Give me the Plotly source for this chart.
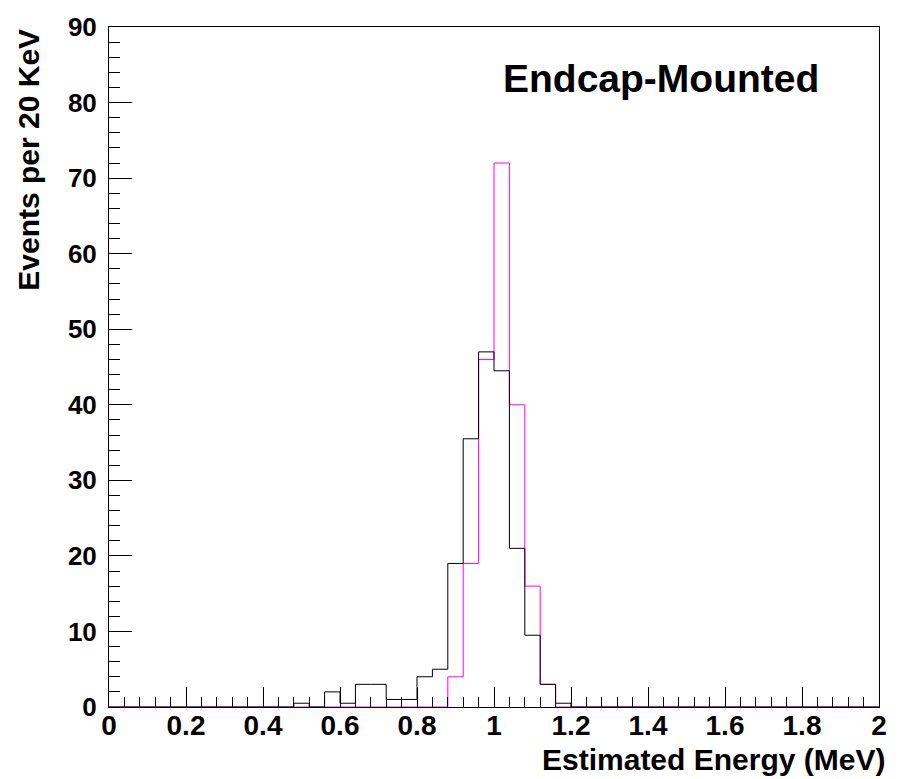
import numpy as np
import plotly.graph_objects as go

# ---- data ----
x_min, x_max, n_bins = 0.0, 2.0, 50
# black histogram (all events), 0.04 MeV bins starting at 0
counts_black = [0, 0, 0, 0, 0, 0, 0, 0, 0, 0,
                0, 0, 0.5, 0, 2, 0.5, 3, 3, 1, 1,
                4, 5, 19, 35.5, 47, 44.5, 21, 9.5, 3, 0.5,
                0, 0, 0, 0, 0, 0, 0, 0, 0, 0,
                0, 0, 0, 0, 0, 0, 0, 0, 0, 0]
# magenta histogram
counts_magenta = [0, 0, 0, 0, 0, 0, 0, 0, 0, 0,
                  0, 0, 0, 0, 0, 0, 0, 0, 0, 0,
                  0, 0, 4, 19, 46, 72, 40, 16, 3, 0,
                  0, 0, 0, 0, 0, 0, 0, 0, 0, 0,
                  0, 0, 0, 0, 0, 0, 0, 0, 0, 0]
x_ticks = [0, 0.2, 0.4, 0.6, 0.8, 1, 1.2, 1.4, 1.6, 1.8, 2]
y_ticks = [0, 10, 20, 30, 40, 50, 60, 70, 80, 90]
x_title = "Estimated Energy (MeV)"
y_title = "Events per 20 KeV"
label_text = "Endcap-Mounted"

edges = np.linspace(x_min, x_max, n_bins + 1)

def step_y(c):
    return list(c) + [c[-1]]

FONT = "Liberation Sans, Arial, sans-serif"

fig = go.Figure()
fig.add_trace(go.Scatter(x=edges, y=step_y(counts_magenta), mode="lines",
                         line=dict(color="#ff00ff", width=1, shape="hv"),
                         showlegend=False, hoverinfo="skip"))
fig.add_trace(go.Scatter(x=edges, y=step_y(counts_black), mode="lines",
                         line=dict(color="black", width=1, shape="hv"),
                         showlegend=False, hoverinfo="skip"))

fig.update_layout(
    width=899, height=779,
    margin=dict(l=109, r=20, t=23, b=72, pad=0),
    paper_bgcolor="white", plot_bgcolor="white",
    xaxis=dict(range=[x_min, x_max], tickmode="array", tickvals=x_ticks,
               ticktext=[("%g" % v) for v in x_ticks],
               ticks="inside", ticklen=20, tickwidth=1, tickcolor="black",
               minor=dict(ticks="inside", ticklen=10, dtick=0.04, tickcolor="black", tickwidth=1),
               showline=True, linecolor="black", linewidth=1, mirror=True,
               showgrid=False, zeroline=False, ticklabelstandoff=-7,
               tickfont=dict(family=FONT, size=28, color="black", weight="bold")),
    yaxis=dict(range=[0, 90], tickmode="array", tickvals=y_ticks,
               ticks="inside", ticklen=23, tickwidth=1, tickcolor="black",
               minor=dict(ticks="inside", ticklen=11, dtick=2, tickcolor="black", tickwidth=1),
               showline=True, linecolor="black", linewidth=1, mirror=True,
               showgrid=False, zeroline=False, ticklabelstandoff=6,
               tickfont=dict(family=FONT, size=26, color="black", weight="bold")),
    annotations=[
        dict(text=x_title, xref="paper", yref="paper", x=1.010, y=-0.0775,
             xanchor="right", yanchor="middle", showarrow=False,
             font=dict(family=FONT, size=30, color="black", weight="bold")),
        dict(text=y_title, xref="paper", yref="paper", x=-0.1056, y=1.0,
             xanchor="center", yanchor="top", textangle=-90, showarrow=False,
             font=dict(family=FONT, size=30, color="black", weight="bold")),
        dict(text=label_text, xref="x", yref="y", x=1.433, y=83.2,
             xanchor="center", yanchor="middle", showarrow=False,
             font=dict(family=FONT, size=39, color="black", weight="bold")),
    ],
)

fig.write_html("out.html")
